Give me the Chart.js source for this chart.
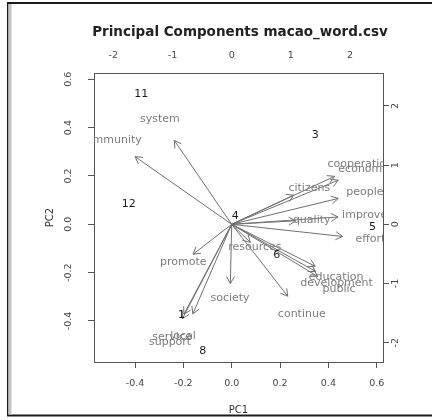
<!DOCTYPE html>
<html>
<head>
<meta charset="utf-8">
<script src="https://cdn.jsdelivr.net/npm/chart.js@4/dist/chart.umd.min.js"></script>
<style>
  html, body { margin: 0; padding: 0; background: #fff; }
  #wrap { width: 432px; height: 420px; }
</style>
</head>
<body>
<div id="wrap"><canvas id="biplot" width="432" height="420"></canvas></div>
<script>
// loadings (variables) - arrows go to 0.8 of these, labels sit on them
const varNames = ['community', 'system', 'cooperation', 'economic', 'citizens', 'people',
  'improve', 'quality', 'effort', 'resources', 'education', 'development', 'public',
  'continue', 'society', 'promote', 'service', 'local', 'support'];
const varPC1 = [-0.500, -0.297, 0.532, 0.551, 0.321, 0.551,
  0.550, 0.331, 0.574, 0.096, 0.432, 0.434, 0.444,
  0.290, -0.007, -0.200, -0.247, -0.201, -0.255];
const varPC2 = [0.350, 0.434, 0.248, 0.228, 0.151, 0.134,
  0.038, 0.018, -0.063, -0.093, -0.217, -0.244, -0.269,
  -0.372, -0.306, -0.155, -0.465, -0.463, -0.488];

// scores (observations), on the top / right axes
const obsNames = ['11', '3', '12', '4', '5', '6', '1', '8'];
const obsPC1 = [-1.53, 1.41, -1.74, 0.06, 2.38, 0.76, -0.85, -0.49];
const obsPC2 = [2.20, 1.51, 0.34, 0.14, -0.05, -0.52, -1.53, -2.14];

const loadTicks = [-0.4, -0.2, 0, 0.2, 0.4, 0.6];
const scoreTicks = [-2, -1, 0, 1, 2];
const lim = [-0.5697, 0.626];
const ratio = 4.083; // score units per loading unit

const tickFont = { family: 'DejaVu Sans', size: 9.5 };
const tickColor = '#444';
const axisColor = '#555';
const arrowColor = '#707070';

const arrowSets = varNames.map((name, i) => ({
  label: name,
  data: [{ x: 0, y: 0 }, { x: varPC1[i] * 0.8, y: varPC2[i] * 0.8 }],
  showLine: true,
  borderColor: arrowColor,
  borderWidth: 1,
  pointRadius: 0,
  xAxisID: 'x',
  yAxisID: 'y'
}));

const obsSet = {
  label: 'obs',
  data: obsNames.map((n, i) => ({ x: obsPC1[i], y: obsPC2[i] })),
  pointRadius: 0,
  xAxisID: 'x2',
  yAxisID: 'y2'
};

const biplotLabels = {
  id: 'biplotLabels',
  beforeDraw(chart) {
    const ctx = chart.ctx;
    ctx.save();
    ctx.fillStyle = '#fff';
    ctx.fillRect(0, 0, chart.width, chart.height);
    ctx.fillStyle = '#1a1a1a';
    ctx.fillRect(7, 2, 425, 2);
    ctx.fillRect(7, 2, 1.5, 414);
    ctx.fillRect(7, 414.5, 425, 2);
    ctx.fillStyle = '#c4c4c4';
    ctx.fillRect(8.5, 4, 3, 410.5);
    ctx.restore();
  },
  afterDatasetsDraw(chart) {
    const ctx = chart.ctx;
    const area = chart.chartArea;
    const sx = chart.scales.x, sy = chart.scales.y;
    ctx.save();
    ctx.beginPath();
    ctx.rect(area.left, area.top, area.right - area.left, area.bottom - area.top);
    ctx.clip();

    // arrow heads
    ctx.strokeStyle = arrowColor;
    ctx.lineWidth = 1;
    arrowSets.forEach((ds, i) => {
      const pts = chart.getDatasetMeta(i).data;
      const x0 = pts[0].x, y0 = pts[0].y, x1 = pts[1].x, y1 = pts[1].y;
      const a = Math.atan2(y0 - y1, x0 - x1);
      const len = 8;
      ctx.beginPath();
      ctx.moveTo(x1 + len * Math.cos(a + Math.PI / 6), y1 + len * Math.sin(a + Math.PI / 6));
      ctx.lineTo(x1, y1);
      ctx.lineTo(x1 + len * Math.cos(a - Math.PI / 6), y1 + len * Math.sin(a - Math.PI / 6));
      ctx.stroke();
    });

    ctx.font = '11px "DejaVu Sans"';
    ctx.textAlign = 'center';
    ctx.textBaseline = 'middle';

    // variable names
    ctx.fillStyle = '#7c7c7c';
    varNames.forEach((n, i) => {
      ctx.fillText(n, sx.getPixelForValue(varPC1[i]), sy.getPixelForValue(varPC2[i]));
    });

    // observation numbers
    ctx.fillStyle = '#1a1a1a';
    const obsMeta = chart.getDatasetMeta(arrowSets.length);
    obsNames.forEach((n, i) => {
      const p = obsMeta.data[i];
      ctx.fillText(n, p.x, p.y);
    });
    ctx.restore();
  },
  afterDraw(chart) {
    const ctx = chart.ctx;
    const area = chart.chartArea;
    ctx.save();
    ctx.font = 'bold 13.5px "DejaVu Sans"';
    ctx.fillStyle = '#222';
    ctx.textAlign = 'center';
    ctx.textBaseline = 'middle';
    ctx.fillText('Principal Components macao_word.csv', (area.left + area.right) / 2 + 1.5, 32);
    ctx.restore();
  }
};

function axis(opts) {
  return Object.assign({
    type: 'linear',
    grid: { drawOnChartArea: false, tickLength: 6, color: axisColor },
    border: { color: axisColor, width: 1 },
    ticks: { font: tickFont, color: tickColor }
  }, opts);
}

new Chart(document.getElementById('biplot'), {
  type: 'scatter',
  data: { datasets: [...arrowSets, obsSet] },
  plugins: [biplotLabels],
  options: {
    responsive: false,
    animation: false,
    devicePixelRatio: 1,
    layout: { padding: 0 },
    plugins: { legend: { display: false }, tooltip: { enabled: false }, title: { display: false } },
    scales: {
      x: axis({
        position: 'bottom', min: lim[0], max: lim[1],
        afterBuildTicks: s => { s.ticks = loadTicks.map(v => ({ value: v })); },
        afterFit: s => { s.height = 58; },
        ticks: { font: tickFont, color: tickColor, padding: 10, maxRotation: 0, callback: v => v.toFixed(1) },
        title: { display: true, text: 'PC1', color: '#333', font: { family: 'DejaVu Sans', size: 10 }, padding: { top: 0, bottom: 4 } }
      }),
      y: axis({
        position: 'left', min: lim[0], max: lim[1],
        afterBuildTicks: s => { s.ticks = loadTicks.map(v => ({ value: v })); },
        afterFit: s => { s.width = 94; },
        ticks: { font: tickFont, color: tickColor, padding: 10, minRotation: 90, maxRotation: 90, crossAlign: 'center', callback: v => v.toFixed(1) },
        title: { display: true, text: 'PC2', color: '#333', font: { family: 'DejaVu Sans', size: 10 }, padding: { top: 44.5, bottom: 0 } }
      }),
      x2: axis({
        position: 'top', min: lim[0] * ratio, max: lim[1] * ratio,
        afterBuildTicks: s => { s.ticks = scoreTicks.map(v => ({ value: v })); },
        afterFit: s => { s.height = 73; },
        grid: { drawOnChartArea: false, drawTicks: false, color: axisColor },
        ticks: { font: tickFont, color: tickColor, padding: 12, maxRotation: 0, callback: v => String(v) }
      }),
      y2: axis({
        position: 'right', min: lim[0] * ratio, max: lim[1] * ratio,
        afterBuildTicks: s => { s.ticks = scoreTicks.map(v => ({ value: v })); },
        afterFit: s => { s.width = 49; },
        ticks: { font: tickFont, color: tickColor, padding: 1.5, minRotation: 90, maxRotation: 90, crossAlign: 'center', callback: v => String(v) }
      })
    }
  }
});
</script>
</body>
</html>
